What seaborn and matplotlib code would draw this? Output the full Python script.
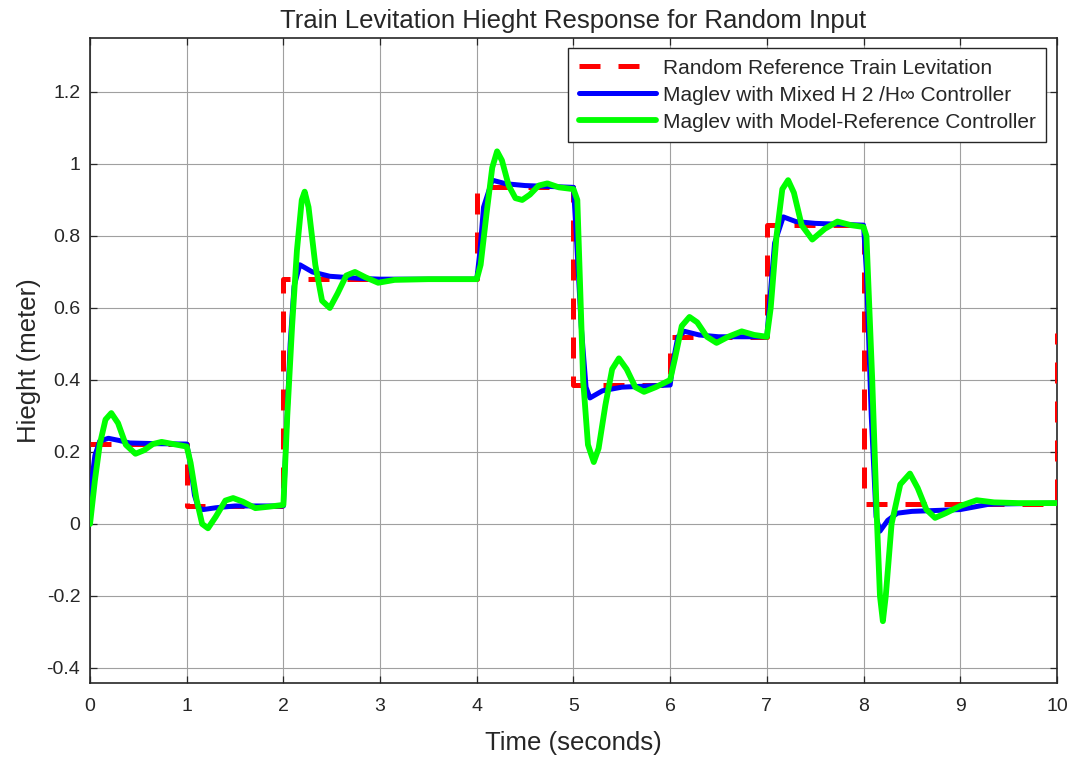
import numpy as np
import pandas as pd
import matplotlib
matplotlib.use("Agg")
import matplotlib.pyplot as plt
import seaborn as sns

# ---- data ----
ref_t = [0, 1, 2, 4, 5, 6, 7, 8, 10]
ref_y = [0.222, 0.05, 0.68, 0.935, 0.385, 0.52, 0.83, 0.055, 0.53]

blue_t = [0, 0.05, 0.1, 0.19, 0.3, 0.41, 0.7, 1.0, 1.03, 1.08, 1.12, 1.17, 1.3, 1.5, 2.0,
          2.03, 2.07, 2.11, 2.17, 2.3, 2.48, 2.8, 3.0, 4.0,
          4.03, 4.07, 4.16, 4.3, 4.5, 5.0,
          5.03, 5.08, 5.13, 5.17, 5.3, 5.5, 6.0,
          6.03, 6.08, 6.15, 6.3, 6.5, 7.0,
          7.03, 7.08, 7.17, 7.3, 7.5, 8.0,
          8.03, 8.08, 8.13, 8.17, 8.25, 8.35, 8.5, 9.0, 9.3, 10.0]
blue_y = [0.08, 0.19, 0.23, 0.238, 0.232, 0.225, 0.223, 0.222, 0.18, 0.08, 0.045, 0.04, 0.045, 0.05, 0.05,
          0.25, 0.5, 0.66, 0.72, 0.70, 0.688, 0.682, 0.68, 0.68,
          0.75, 0.88, 0.955, 0.945, 0.94, 0.935,
          0.8, 0.55, 0.38, 0.35, 0.37, 0.38, 0.386,
          0.45, 0.52, 0.535, 0.525, 0.52, 0.52,
          0.62, 0.78, 0.853, 0.84, 0.835, 0.83,
          0.7, 0.3, 0.02, -0.02, 0.01, 0.03, 0.035, 0.04, 0.055, 0.058]

green_t = [0, 0.05, 0.1, 0.16, 0.22, 0.29, 0.37, 0.47, 0.56, 0.65, 0.74, 0.86, 1.0,
           1.04, 1.1, 1.16, 1.22, 1.3, 1.4, 1.48, 1.58, 1.71, 1.85, 2.0,
           2.04, 2.09, 2.14, 2.19, 2.22, 2.26, 2.33, 2.4, 2.48, 2.56, 2.65, 2.74, 2.85, 2.98, 3.15, 3.5, 4.0,
           4.04, 4.1, 4.16, 4.21, 4.26, 4.33, 4.4, 4.47, 4.55, 4.64, 4.73, 4.85, 5.0,
           5.04, 5.1, 5.15, 5.21, 5.26, 5.33, 5.4, 5.47, 5.55, 5.64, 5.73, 5.85, 6.0,
           6.05, 6.12, 6.2, 6.28, 6.38, 6.48, 6.6, 6.74, 6.87, 7.0,
           7.04, 7.1, 7.16, 7.22, 7.28, 7.36, 7.47, 7.6, 7.73, 7.87, 8.0,
           8.03, 8.09, 8.14, 8.17, 8.2, 8.23, 8.29, 8.38, 8.48, 8.56, 8.65, 8.74, 8.85, 9.0,
           9.17, 9.35, 9.6, 10.0]
green_y = [0.0, 0.12, 0.22, 0.29, 0.308, 0.28, 0.22, 0.195, 0.205, 0.222, 0.228, 0.222, 0.215,
           0.17, 0.07, 0.0, -0.012, 0.02, 0.065, 0.072, 0.062, 0.044, 0.048, 0.053,
           0.3, 0.55, 0.76, 0.9, 0.923, 0.88, 0.72, 0.62, 0.60, 0.64, 0.69, 0.70, 0.685, 0.67, 0.678, 0.68, 0.68,
           0.72, 0.86, 0.99, 1.035, 1.01, 0.94, 0.905, 0.90, 0.915, 0.94, 0.946, 0.935, 0.93,
           0.9, 0.4, 0.22, 0.172, 0.21, 0.33, 0.43, 0.46, 0.43, 0.38, 0.367, 0.38, 0.40,
           0.46, 0.55, 0.575, 0.56, 0.52, 0.503, 0.52, 0.535, 0.525, 0.52,
           0.6, 0.8, 0.93, 0.955, 0.92, 0.83, 0.79, 0.82, 0.84, 0.83, 0.825,
           0.8, 0.4, 0.0, -0.2, -0.27, -0.2, 0.0, 0.11, 0.14, 0.1, 0.04, 0.017, 0.03, 0.05,
           0.066, 0.06, 0.058, 0.058]

labels = ["Random Reference Train Levitation",
          "Maglev with Mixed H 2 /H\u221e Controller",
          "Maglev with Model-Reference Controller"]
x_ticks = list(range(0, 11))
y_ticks = [-0.4, -0.2, 0, 0.2, 0.4, 0.6, 0.8, 1.0, 1.2]
y_tick_labels = ["-0.4", "-0.2", "0", "0.2", "0.4", "0.6", "0.8", "1", "1.2"]

sns.set_theme(style="whitegrid")
plt.rcParams['font.family'] = ['Liberation Sans', 'DejaVu Sans']

fig = plt.figure(figsize=(10.73, 7.59), dpi=100)
ax = fig.add_axes([0.0839, 0.100, 0.9011, 0.850])
ax.set_facecolor("white")

ref_df = pd.DataFrame({"t": ref_t, "y": ref_y})
blue_df = pd.DataFrame({"t": blue_t, "y": blue_y})
green_df = pd.DataFrame({"t": green_t, "y": green_y})

sns.lineplot(data=ref_df, x="t", y="y", ax=ax, color="#ff0000", lw=3.6,
             drawstyle="steps-post", dashes=False, estimator=None, sort=False,
             label=labels[0], zorder=3)
ax.lines[-1].set_dashes((4.2, 3.6))
sns.lineplot(data=blue_df, x="t", y="y", ax=ax, color="#0000ff", lw=3.6,
             estimator=None, sort=False, label=labels[1], zorder=4)
sns.lineplot(data=green_df, x="t", y="y", ax=ax, color="#00ff00", lw=4.2,
             estimator=None, sort=False, label=labels[2], zorder=5)

ax.set_xlim(0, 10)
ax.set_ylim(-0.442, 1.35)
ax.set_xticks(x_ticks)
ax.set_xticklabels([str(v) for v in x_ticks])
ax.set_yticks(y_ticks)
ax.set_yticklabels(y_tick_labels)

ax.grid(True, color="#a0a0a0", lw=0.8)
for s in ax.spines.values():
    s.set_visible(True)
    s.set_color("#262626")
    s.set_linewidth(1.2)
ax.tick_params(axis="both", which="both", direction="in", length=5, width=0.9,
               colors="#262626", labelsize=14, top=True, right=True,
               bottom=True, left=True, pad=7)
ax.tick_params(axis="x", pad=11)
for lab in ax.get_xticklabels() + ax.get_yticklabels():
    lab.set_color("#262626")

ax.set_xlabel("Time (seconds)", fontsize=18.5, color="#262626", labelpad=11)
ax.set_ylabel("Hieght (meter)", fontsize=18.5, color="#262626", labelpad=4)
ax.set_title("Train Levitation Hieght Response for Random Input", fontsize=18.5,
             color="#262626", pad=7)

leg = ax.legend(loc="upper right", fontsize=15, handlelength=3.7,
                handletextpad=0.35, borderaxespad=0.5, frameon=True,
                fancybox=False, edgecolor="#262626", framealpha=1,
                borderpad=0.5, labelspacing=0.38)
leg.get_frame().set_linewidth(1.0)
leg.get_lines()[0].set_dashes((4.2, 3.6))

fig.savefig("out.png", dpi=100, facecolor="white")
